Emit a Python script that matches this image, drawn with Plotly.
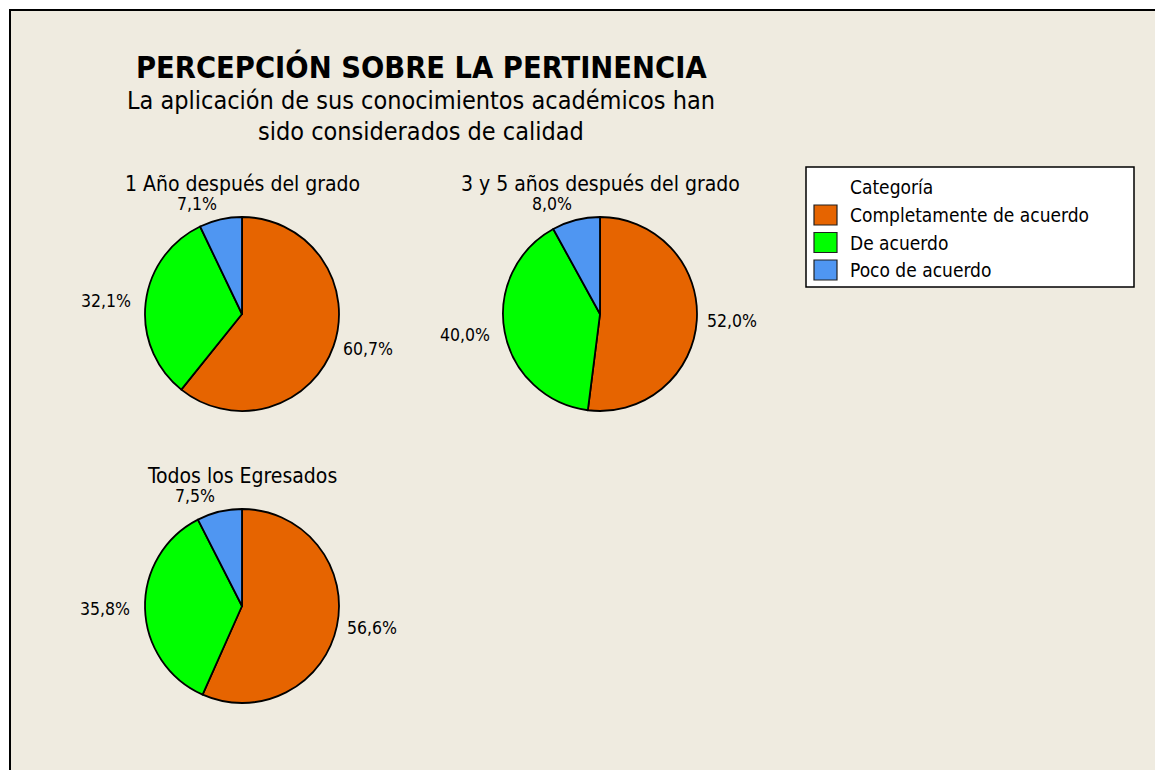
import math
import plotly.graph_objects as go

# Survey categories and shares (%) per group of graduates
categories = ["Completamente de acuerdo", "De acuerdo", "Poco de acuerdo"]
colors = ["#E66400", "#00FF00", "#4F96F2"]
legend_title = "Categoría"

group_titles = ["1 Año después del grado", "3 y 5 años después del grado", "Todos los Egresados"]
share_1_year = [60.7, 32.1, 7.1]
share_3_5_years = [52.0, 40.0, 8.0]
share_all = [56.6, 35.8, 7.5]

W, H = 1155, 770
FONT = "DejaVu Sans Condensed"
BG = "#EFEBE0"

# pie centres (px from top-left) and radius
centres = [(242, 314), (600, 314), (242, 606)]
R = 97
series = [share_1_year, share_3_5_years, share_all]


def px_x(x):
    return x / W


def px_y(y):
    return 1 - y / H


fig = go.Figure()
annotations = []
shapes = [dict(
    type="rect", xref="paper", yref="paper", x0=px_x(10), y0=-0.02, x1=1.02, y1=px_y(10),
    fillcolor=BG, line=dict(color="black", width=2), layer="below",
)]

for i, (vals, (cx, cy), title) in enumerate(zip(series, centres, group_titles)):
    fig.add_trace(go.Pie(
        labels=categories,
        values=vals,
        sort=False,
        direction="clockwise",
        rotation=0,
        textinfo="none",
        hoverinfo="label+percent",
        marker=dict(colors=colors, line=dict(color="black", width=1.8)),
        domain=dict(x=[px_x(cx - R), px_x(cx + R)], y=[px_y(cy + R), px_y(cy - R)]),
        showlegend=False,
    ))
    # group title above each pie
    annotations.append(dict(
        text=title, x=px_x(cx), y=px_y(cy - R - 33), xref="paper", yref="paper",
        xanchor="center", yanchor="middle", showarrow=False,
        font=dict(size=21, color="black", family=FONT),
    ))
    # percentage labels outside each slice, at the slice's mid angle
    total = sum(vals)
    cum = 0.0
    for v in vals:
        mid = (cum + v / 2) / total * 2 * math.pi
        cum += v
        s, c = math.sin(mid), math.cos(mid)
        gap = 8 if s > 0 or c > 0.7 else 13
        lx = cx + (R + gap) * s
        ly = cy - (R + gap) * c
        xa = "left" if s > 0 else "right"
        if c > 0.7:
            ya, ly = "bottom", ly + 4
        elif c < -0.7:
            ya = "top"
        else:
            ya = "middle"
        annotations.append(dict(
            text=f"{v:.1f}%".replace(".", ","), x=px_x(lx), y=px_y(ly),
            xref="paper", yref="paper", xanchor=xa, yanchor=ya, showarrow=False,
            font=dict(size=17.5, color="black", family=FONT),
        ))

# main title and two-line subtitle
annotations.append(dict(
    text="<b>PERCEPCIÓN SOBRE LA PERTINENCIA</b>", x=px_x(421), y=px_y(67),
    xref="paper", yref="paper", xanchor="center", yanchor="middle", showarrow=False,
    font=dict(size=30.5, color="black", family=FONT),
))
for line, ly in [("La aplicación de sus conocimientos académicos han", 101),
                 ("sido considerados de calidad", 131)]:
    annotations.append(dict(
        text=line, x=px_x(421), y=px_y(ly), xref="paper", yref="paper",
        xanchor="center", yanchor="middle", showarrow=False,
        font=dict(size=25, color="black", family=FONT),
    ))

# legend box with title and colour swatches
lg_x0, lg_y0, lg_x1, lg_y1 = 806, 167, 1134, 287
shapes.append(dict(
    type="rect", xref="paper", yref="paper",
    x0=px_x(lg_x0), x1=px_x(lg_x1), y0=px_y(lg_y1), y1=px_y(lg_y0),
    fillcolor="white", line=dict(color="black", width=1.5),
))
annotations.append(dict(
    text=legend_title, x=px_x(848), y=px_y(187), xref="paper", yref="paper",
    xanchor="left", yanchor="middle", showarrow=False,
    font=dict(size=19, color="black", family=FONT),
))
for k, (name, col) in enumerate(zip(categories, colors)):
    ry = 215 + k * 27.5
    shapes.append(dict(
        type="rect", xref="paper", yref="paper",
        x0=px_x(814), x1=px_x(837), y0=px_y(ry + 10), y1=px_y(ry - 10),
        fillcolor=col, line=dict(color="#202020", width=1.2),
    ))
    annotations.append(dict(
        text=name, x=px_x(848), y=px_y(ry), xref="paper", yref="paper",
        xanchor="left", yanchor="middle", showarrow=False,
        font=dict(size=19, color="black", family=FONT),
    ))

fig.update_layout(
    width=W, height=H,
    margin=dict(l=0, r=0, t=0, b=0),
    paper_bgcolor="white",
    plot_bgcolor=BG,
    font=dict(family=FONT, color="black"),
    annotations=annotations,
    shapes=shapes,
    showlegend=False,
)

fig.write_html("out.html")
